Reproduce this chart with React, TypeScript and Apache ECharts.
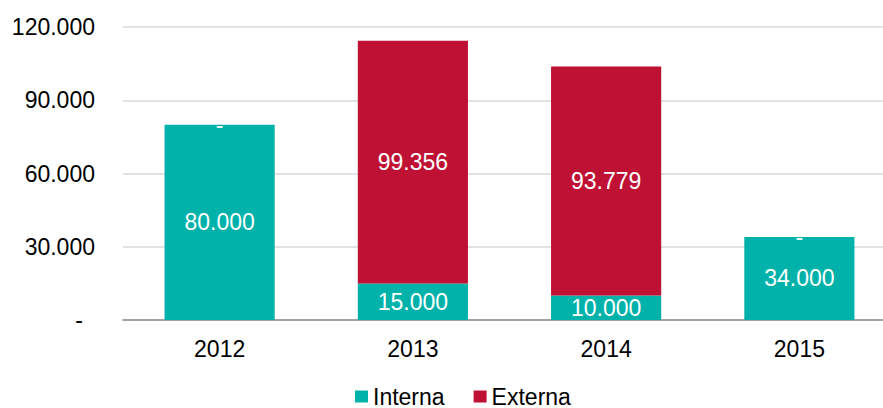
import React, { useEffect, useRef } from "react";
import * as echarts from "echarts";

const categories = ["2012", "2013", "2014", "2015"];
const interna = [80000, 15000, 10000, 34000];
const externa = [0, 99356, 93779, 0];
const yTicks = [0, 30000, 60000, 90000, 120000];

const fmt = (v: number) => {
  if (v === 0) return "-";
  return String(Math.round(v)).replace(/\B(?=(\d{3})+(?!\d))/g, ".");
};

const FONT = "Arial, 'Liberation Sans', sans-serif";

export default function App() {
  const ref = useRef<HTMLDivElement>(null);
  useEffect(() => {
    if (!ref.current) return;
    const chart = echarts.init(ref.current, undefined, { renderer: "svg" });
    const labelCfg = {
      show: true,
      position: "inside",
      color: "#ffffff",
      fontSize: 23,
      fontFamily: FONT,
      formatter: (p: any) => fmt(p.value),
    };
    chart.setOption({
      animation: false,
      backgroundColor: "#ffffff",
      legend: {
        data: ["Interna", "Externa"],
        left: 350,
        top: 380,
        itemWidth: 13,
        itemHeight: 12,
        itemGap: 29,
        icon: "rect",
        textStyle: { fontSize: 23, fontFamily: FONT, color: "#000" },
      },
      grid: {
        left: 123,
        width: 773,
        top: 27,
        bottom: 88,
        containLabel: false,
        outerBoundsMode: "none",
      },
      xAxis: {
        type: "category",
        data: categories,
        axisLine: { show: true, lineStyle: { color: "#8c8c8c", width: 1.5 } },
        axisTick: { show: false },
        axisLabel: { fontSize: 23, fontFamily: FONT, color: "#000", margin: 17 },
      },
      yAxis: {
        type: "value",
        min: yTicks[0],
        max: yTicks[yTicks.length - 1],
        interval: yTicks[1] - yTicks[0],
        axisLine: { show: false },
        axisTick: { show: false },
        splitLine: { lineStyle: { color: "#d9d9d9", width: 1.5 } },
        axisLabel: {
          fontSize: 23,
          fontFamily: FONT,
          color: "#000",
          margin: 28,
          formatter: (v: number) => (v === 0 ? "{z|-}" : fmt(v)),
          rich: { z: { fontSize: 23, fontFamily: FONT, color: "#000", padding: [0, 12, 0, 0] } },
        },
      },
      series: [
        {
          name: "Interna",
          type: "bar",
          stack: "total",
          data: interna,
          barCategoryGap: "43%",
          itemStyle: { color: "#00B2AA" },
          label: labelCfg,
        },
        {
          name: "Externa",
          type: "bar",
          stack: "total",
          data: externa,
          itemStyle: { color: "#BE1134" },
          label: labelCfg,
        },
      ],
    });
    return () => chart.dispose();
  }, []);
  return (
    <div
      ref={ref}
      style={{ position: "fixed", left: 0, top: 0, width: 883, height: 408 }}
    />
  );
}
